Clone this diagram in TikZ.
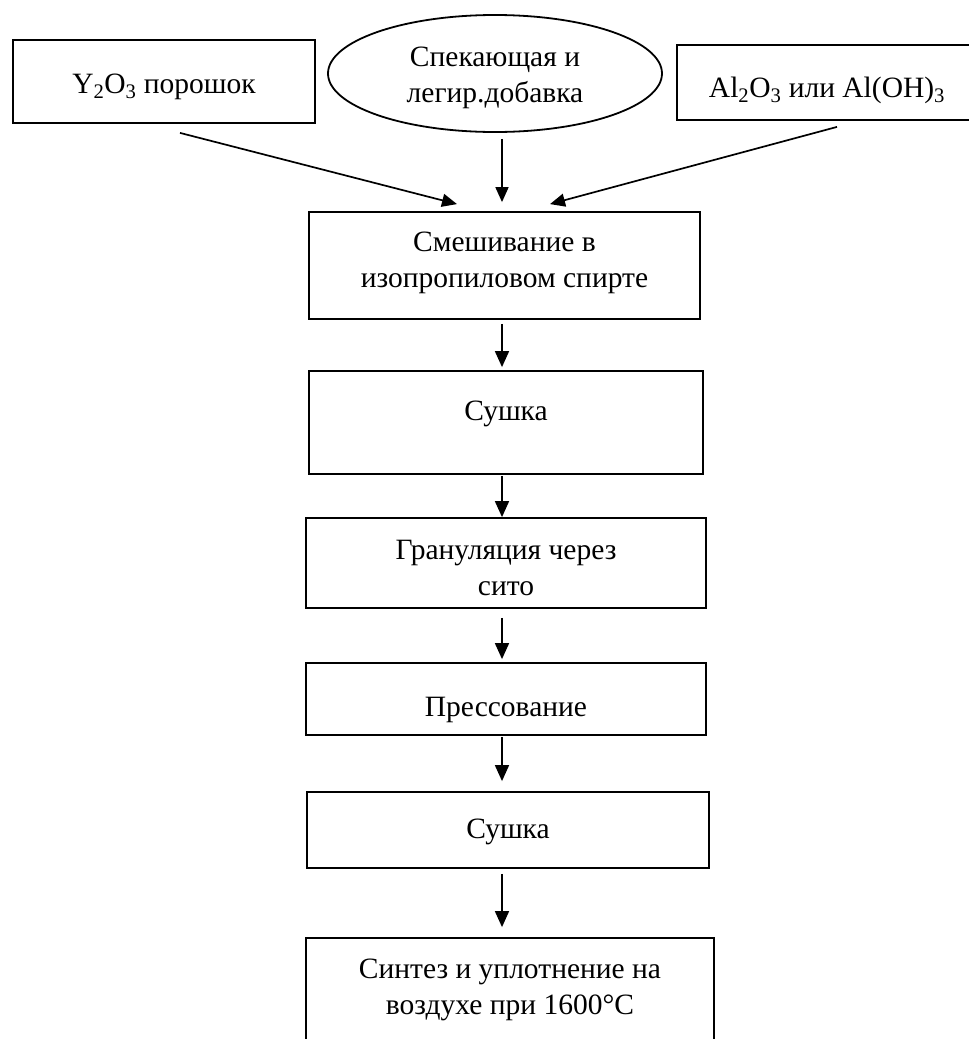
\documentclass[tikz,border=0pt]{standalone}
\usepackage{fontspec}
\setmainfont{Liberation Serif}
\usetikzlibrary{shapes.geometric,arrows.meta,calc}
\begin{document}
\begin{tikzpicture}[x=1pt,y=-1pt,
  every node/.style={font=\fontsize{29.5}{36}\selectfont, align=center, inner sep=0pt},
  every label/.style={font=\fontsize{29.5}{36}\selectfont, align=center, inner sep=0pt},
  boxnode/.style={draw, line width=1.8pt, rectangle},
  ellnode/.style={draw, line width=1.8pt, ellipse},
  arr/.style={line width=1.7pt, -{Triangle[length=16pt,width=14pt]}},
  arrs/.style={line width=1.7pt, -{Triangle[length=15pt,width=13pt]}}
]
\useasboundingbox (0,0) rectangle (969,1039);
% top row
\node[boxnode, minimum width=302pt, minimum height=83pt,
  label={[yshift=-5pt]center:Y\textsubscript{2}O\textsubscript{3} порошок}] (y2o3) at (164,81.5) {};
\node[ellnode, minimum width=334pt, minimum height=117pt,
  label={[yshift=-4pt]center:Спекающая и\\легир.добавка}] (dop) at (495,73.5) {};
\node[boxnode, minimum width=300pt, minimum height=75pt,
  label={[yshift=-8pt]center:Al\textsubscript{2}O\textsubscript{3} или Al(OH)\textsubscript{3}}] (al) at (827,82.5) {};
% column
\node[boxnode, minimum width=391pt, minimum height=107pt,
  label={[yshift=3pt]center:Смешивание в\\изопропиловом спирте}] (mix) at (504.5,265.5) {};
\node[boxnode, minimum width=394pt, minimum height=103pt,
  label={[yshift=9pt]center:Сушка}] (dry1) at (506,422.5) {};
\node[boxnode, minimum width=400pt, minimum height=90pt,
  label={[yshift=-5pt]center:Грануляция через\\сито}] (gran) at (506,563) {};
\node[boxnode, minimum width=400pt, minimum height=72pt,
  label={[yshift=-11pt]center:Прессование}] (press) at (506,699) {};
\node[boxnode, minimum width=402pt, minimum height=76pt,
  label={[yshift=-2pt]center:Сушка}] (dry2) at (508,830) {};
\node[boxnode, minimum width=408pt, minimum height=104pt,
  label={[yshift=0pt]center:Синтез и уплотнение на\\воздухе при 1600°C}] (synth) at (510,990) {};
\coordinate (ax) at (502,0);
% input arrows
\draw[arrs] ($(y2o3.south)+(16,9)$) -- ($(mix.north)+(-47.5,-7)$);
\draw[arrs] ($(dop.south)+(7,6)$) -- ($(mix.north)+(-2.5,-9)$);
\draw[arrs] ($(al.south)+(10,6)$) -- ($(mix.north)+(45.5,-7)$);
% column arrows
\draw[arr] ([yshift=-4pt]mix.south -| ax) -- ([yshift=3pt]dry1.north -| ax);
\draw[arr] ([yshift=-1pt]dry1.south -| ax) -- ([yshift=0pt]gran.north -| ax);
\draw[arr] ([yshift=-9pt]gran.south -| ax) -- ([yshift=3pt]press.north -| ax);
\draw[arr] ([yshift=-1pt]press.south -| ax) -- ([yshift=10pt]dry2.north -| ax);
\draw[arr] ([yshift=-5pt]dry2.south -| ax) -- ([yshift=10pt]synth.north -| ax);
\end{tikzpicture}
\end{document}
